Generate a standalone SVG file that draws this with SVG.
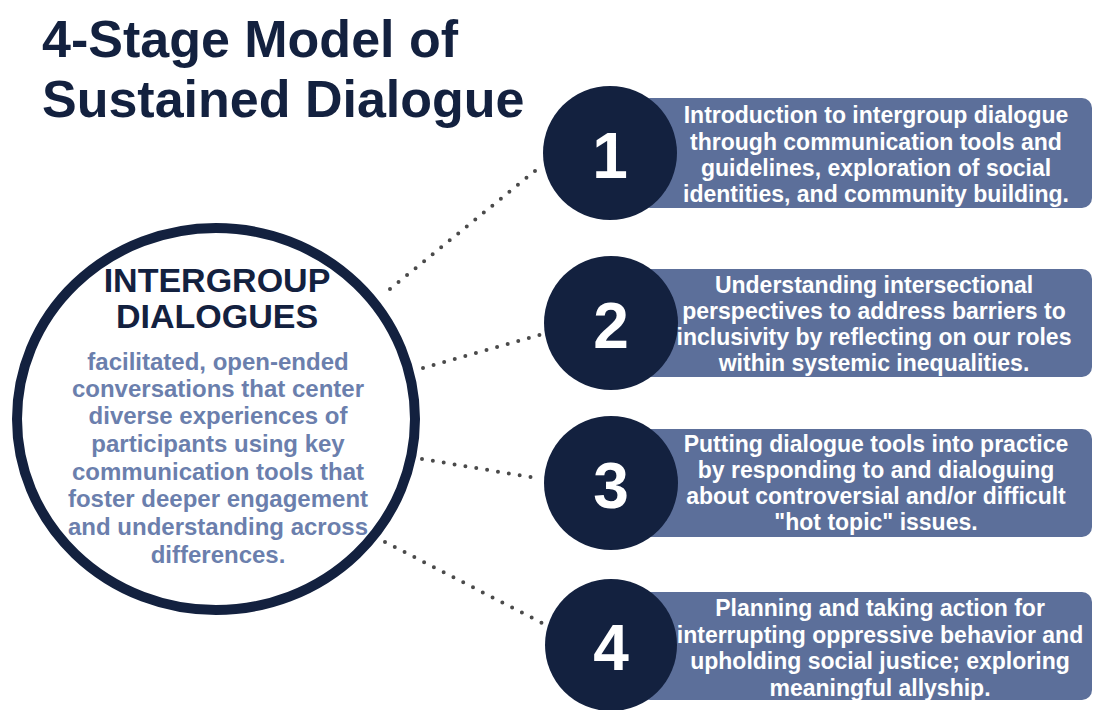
<svg xmlns="http://www.w3.org/2000/svg" width="1094" height="710" viewBox="0 0 1094 710">
  <style>
    .title { font-family: "Liberation Sans", Arial, sans-serif; font-weight: bold; font-size: 52px; fill: #13213f; }
    .hub-head { font-family: "Liberation Sans", Arial, sans-serif; font-weight: bold; font-size: 34px; fill: #13213f; text-anchor: middle; }
    .hub-body { font-family: "Liberation Sans", Arial, sans-serif; font-weight: bold; font-size: 24px; fill: #6b7fad; text-anchor: middle; }
    .num { font-family: "Liberation Sans", Arial, sans-serif; font-weight: bold; font-size: 64px; fill: #ffffff; text-anchor: middle; }
    .card { fill: #5c6f9a; }
    .badge { fill: #13213f; }
    .card-text { font-family: "Liberation Sans", Arial, sans-serif; font-weight: bold; font-size: 23px; fill: #ffffff; text-anchor: middle; }
    .dots { fill: none; stroke: #4a4a4a; stroke-width: 4; stroke-linecap: round; stroke-dasharray: 0 11; }
  </style>

  <rect width="1094" height="710" fill="#ffffff"/>

  <g id="title">
    <text class="title" x="42" y="57">4-Stage Model of</text>
    <text class="title" x="42" y="117">Sustained Dialogue</text>
  </g>

  <!-- dotted links from the hub to each stage -->
  <g id="connectors">
    <line class="dots" x1="390" y1="289" x2="541" y2="166"/>
    <line class="dots" x1="423" y1="368" x2="543" y2="334"/>
    <line class="dots" x1="422" y1="459" x2="536" y2="478"/>
    <line class="dots" x1="385" y1="542" x2="546" y2="625"/>
  </g>

  <g id="hub">
    <ellipse cx="216" cy="419" rx="199" ry="191" fill="#ffffff" stroke="#13213f" stroke-width="10"/>
    <text class="hub-head" x="217" y="292">INTERGROUP</text>
    <text class="hub-head" x="217" y="328">DIALOGUES</text>
    <text class="hub-body" x="218" y="370">facilitated, open-ended</text>
    <text class="hub-body" x="218" y="397">conversations that center</text>
    <text class="hub-body" x="218" y="424">diverse experiences of</text>
    <text class="hub-body" x="218" y="452">participants using key</text>
    <text class="hub-body" x="218" y="480">communication tools that</text>
    <text class="hub-body" x="218" y="507">foster deeper engagement</text>
    <text class="hub-body" x="218" y="535">and understanding across</text>
    <text class="hub-body" x="218" y="563">differences.</text>
  </g>

  <g id="stage1">
    <rect class="card" x="640" y="98" width="452" height="110" rx="10"/>
    <circle class="badge" cx="610" cy="153" r="67"/>
    <text class="num" x="610" y="178">1</text>
    <text class="card-text" x="876" y="123">Introduction to intergroup dialogue</text>
    <text class="card-text" x="876" y="150">through communication tools and</text>
    <text class="card-text" x="876" y="176">guidelines, exploration of social</text>
    <text class="card-text" x="876" y="202">identities, and community building.</text>
  </g>

  <g id="stage2">
    <rect class="card" x="640" y="269" width="452" height="108" rx="10"/>
    <circle class="badge" cx="611" cy="323" r="67"/>
    <text class="num" x="611" y="348">2</text>
    <text class="card-text" x="874" y="293">Understanding intersectional</text>
    <text class="card-text" x="874" y="319">perspectives to address barriers to</text>
    <text class="card-text" x="874" y="345">inclusivity by reflecting on our roles</text>
    <text class="card-text" x="874" y="371">within systemic inequalities.</text>
  </g>

  <g id="stage3">
    <rect class="card" x="640" y="429" width="452" height="108" rx="10"/>
    <circle class="badge" cx="611" cy="483" r="67"/>
    <text class="num" x="611" y="508">3</text>
    <text class="card-text" x="876" y="452">Putting dialogue tools into practice</text>
    <text class="card-text" x="876" y="478">by responding to and dialoguing</text>
    <text class="card-text" x="876" y="504">about controversial and/or difficult</text>
    <text class="card-text" x="876" y="530">"hot topic" issues.</text>
  </g>

  <g id="stage4">
    <rect class="card" x="640" y="592" width="452" height="108" rx="10"/>
    <circle class="badge" cx="611" cy="645" r="66"/>
    <text class="num" x="611" y="670">4</text>
    <text class="card-text" x="880" y="616">Planning and taking action for</text>
    <text class="card-text" x="880" y="643">interrupting oppressive behavior and</text>
    <text class="card-text" x="880" y="669">upholding social justice; exploring</text>
    <text class="card-text" x="880" y="696">meaningful allyship.</text>
  </g>
</svg>
